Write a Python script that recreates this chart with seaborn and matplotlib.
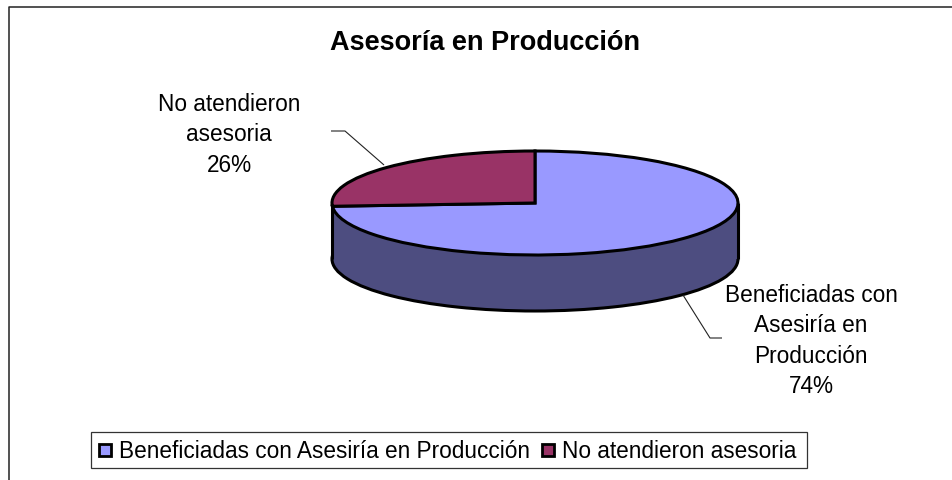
import matplotlib
matplotlib.use('Agg')
import matplotlib.pyplot as plt
from matplotlib.patches import Rectangle
import seaborn as sns

W, H = 953, 481

labels = ['Beneficiadas con Asesiría en Producción', 'No atendieron asesoria']
values = [74, 26]
top_colors = ['#9999FF', '#993366']
side_color = '#4D4D80'
title = 'Asesoría en Producción'

sns.set_theme(style='white')
plt.rcParams['font.family'] = ['Liberation Sans', 'DejaVu Sans']

fig = plt.figure(figsize=(W / 100, H / 100), dpi=100)
ax = fig.add_axes([0, 0, 1, 1])

cx, cy = 535, 204
rx, ry = 203, 52
depth = 56


def py(y):
    return H - y


edge = {'edgecolor': 'black', 'linewidth': 2.2}

# lower disc, then wall between the discs, then top disc
ax.pie([sum(values)], colors=[side_color], startangle=90, center=(0, -depth / ry),
       radius=1, wedgeprops=edge)
ax.bar(0, depth / ry, width=2, bottom=-depth / ry, color=side_color, linewidth=0, zorder=2)
ax.vlines([-1, 1], -depth / ry, 0, color='black', linewidth=2.2, zorder=3)
wedges, _ = ax.pie(values, colors=top_colors, startangle=90, counterclock=False,
                   radius=1, wedgeprops=edge)
for w in wedges:
    w.set_zorder(4)

# the pie is stretched by hand: limits chosen so the unit disc lands on rx, ry
ax.set_aspect('auto')
ax.set_xlim((0 - cx) / rx, (W - cx) / rx)
ax.set_ylim((cy - H) / ry, cy / ry)
ax.axis('off')


def to_data(x, y):
    return (x - cx) / rx, (cy - y) / ry


# leader lines
xs, ys = zip(to_data(331, 132), to_data(345, 132), to_data(384, 166))
ax.plot(xs, ys, color='#222222', linewidth=0.8, zorder=1, solid_capstyle='butt')
xs, ys = zip(to_data(683, 296), to_data(710, 339), to_data(722, 339))
ax.plot(xs, ys, color='#222222', linewidth=0.8, zorder=1, solid_capstyle='butt')

# text
fs = 16.3
ls = 1.4
fig.text(485 / W, py(43) / H, title, ha='center', va='center', fontsize=19.5,
         fontweight='bold', color='black')
fig.text(229 / W, py(135) / H, 'No atendieron\nasesoria\n%d%%' % values[1], ha='center', va='center',
         fontsize=fs, linespacing=ls, color='black')
fig.text(811 / W, py(341) / H, 'Beneficiadas con\nAsesiría en\nProducción\n%d%%' % values[0],
         ha='center', va='center', fontsize=fs, linespacing=ls, color='black')

# chart frame, open on the right and bottom where the picture is cropped
fig.add_artist(plt.Line2D([9.5 / W, 9.5 / W, 1], [0, py(7.5) / H, py(7.5) / H],
                          color='#222222', linewidth=1.1))

# legend box
fig.add_artist(Rectangle((91.5 / W, py(469) / H), 716 / W, 36 / H, facecolor='white',
                         edgecolor='#333333', linewidth=0.9, transform=fig.transFigure))
fig.add_artist(Rectangle((99 / W, py(457) / H), 12 / W, 12 / H, facecolor=top_colors[0],
                         edgecolor='black', linewidth=2, transform=fig.transFigure))
fig.text(119 / W, py(452) / H, labels[0], ha='left', va='center', fontsize=fs, color='black')
fig.add_artist(Rectangle((542 / W, py(457) / H), 12 / W, 12 / H, facecolor=top_colors[1],
                         edgecolor='black', linewidth=2, transform=fig.transFigure))
fig.text(562 / W, py(452) / H, labels[1], ha='left', va='center', fontsize=fs, color='black')

fig.savefig('out.png', dpi=100)
